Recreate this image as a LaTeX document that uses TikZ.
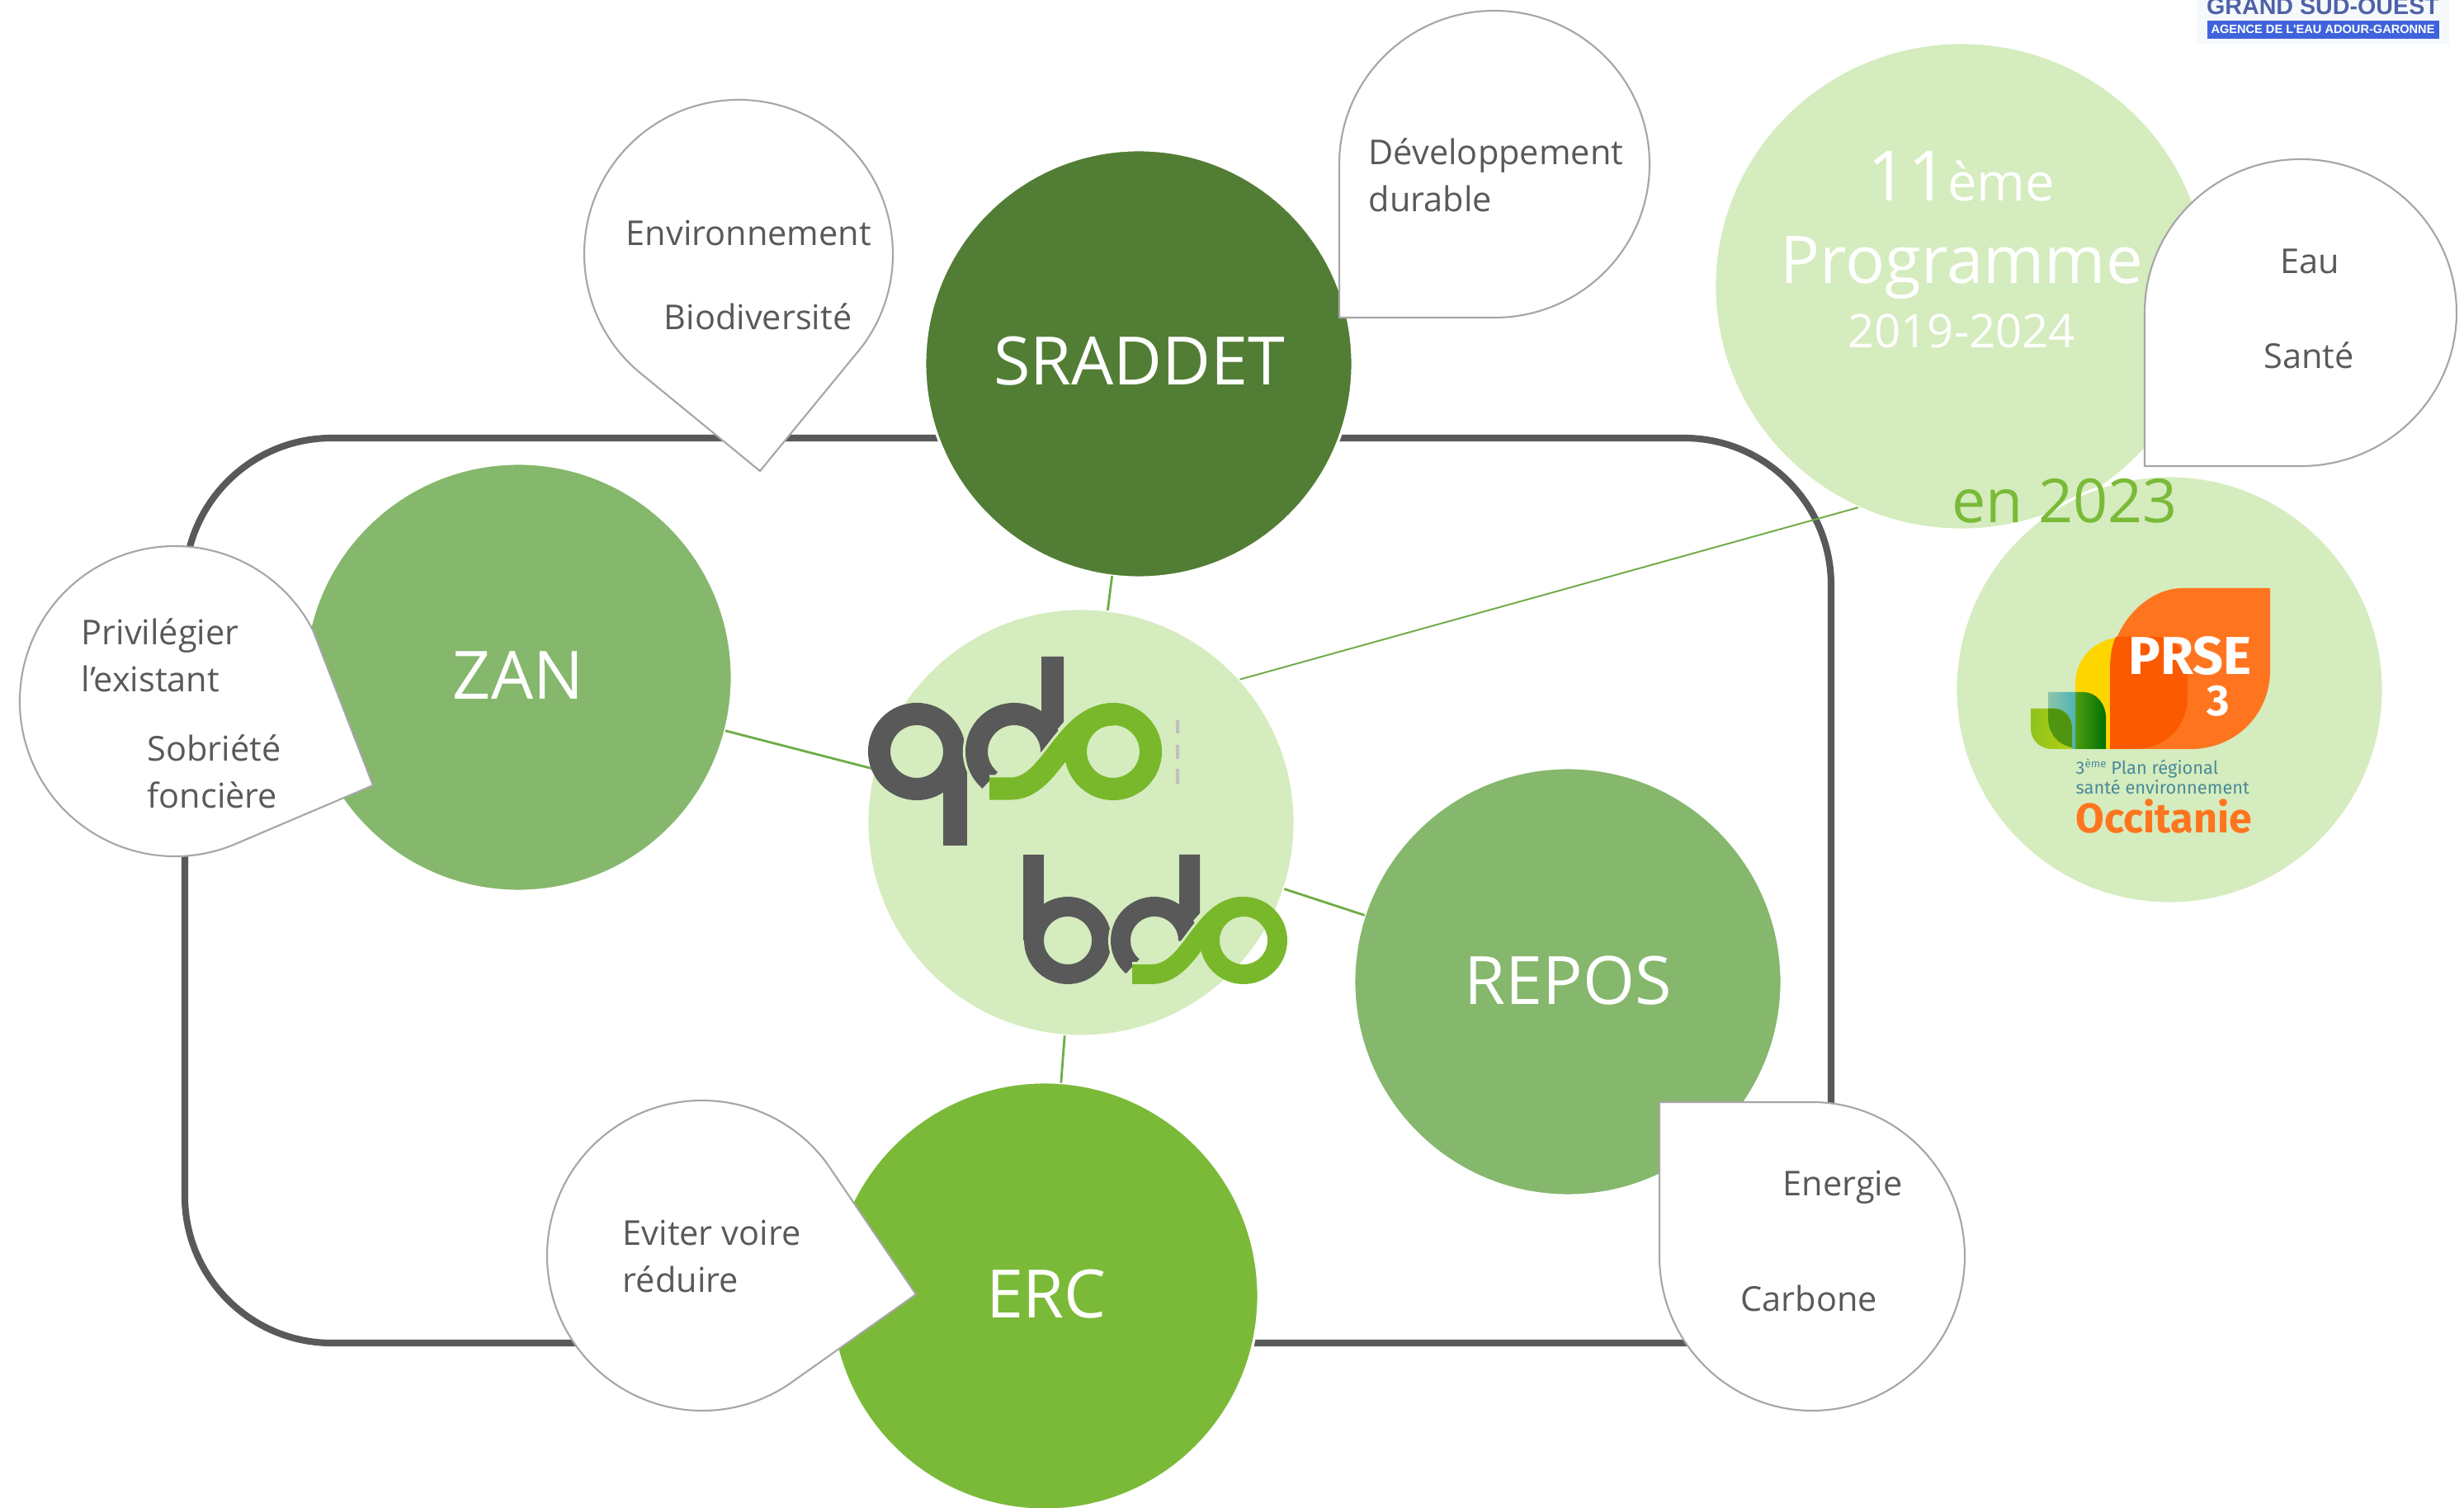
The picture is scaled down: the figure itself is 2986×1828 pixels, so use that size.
\documentclass[tikz,border=0pt]{standalone}
\usepackage{fontspec}
\usetikzlibrary{calc,shapes.geometric}
\setmainfont{Open Sans}
\newfontfamily\prsefont{Fira Sans}
\newfontfamily\logofont{Liberation Sans}
\definecolor{txt}{HTML}{595959}
\definecolor{pale}{HTML}{D5ECBE}
\definecolor{darkg}{HTML}{527D35}
\definecolor{midg}{HTML}{85B76C}
\definecolor{brightg}{HTML}{7ABA38}
\definecolor{logog}{HTML}{78B82A}
\definecolor{linkg}{HTML}{6FAC46}
\definecolor{edgeg}{HTML}{A6A6A6}
\definecolor{prseo}{HTML}{FF751F}
\definecolor{prsed}{HTML}{FB5A00}
\definecolor{prsey}{HTML}{FFD500}
\definecolor{prset}{HTML}{4A8A9A}
\definecolor{gsoblue}{HTML}{4F62A8}
\definecolor{gsobar}{HTML}{3F63DC}
\definecolor{gsobg}{HTML}{F6F9FC}
\definecolor{gA}{HTML}{4E9C10}\definecolor{gB}{HTML}{007000}
\definecolor{tA}{HTML}{8CC5A8}\definecolor{tB}{HTML}{4FB3B8}
\definecolor{lA}{HTML}{8FC31F}\definecolor{lB}{HTML}{B5CF10}
\definecolor{olive}{HTML}{4F9510}
\tikzset{
  disc/.style={circle,draw=white,line width=0.9pt,inner sep=0pt,outer sep=0pt},
  big/.style={disc,minimum size=5.18cm},
  link/.style={draw=linkg,line width=0.8pt},
  thin link/.style={draw=linkg,line width=0.55pt},
  bubble/.style={draw=edgeg,fill=white,line width=0.6pt,line join=miter},
  lab/.style={text=txt,inner sep=0pt,font=\fontsize{11.8}{14}\selectfont},
  head/.style={text=white,inner sep=0pt,font=\fontsize{23}{28}\selectfont},
}
\begin{document}
\begin{tikzpicture}[x=0.01cm,y=-0.01cm]
\fill[white] (0,0) rectangle (2986,1828);
\useasboundingbox (0,0) rectangle (2986,1828);
% frame
\draw[txt,line width=2.3pt,rounded corners=1.78cm] (224,531) rectangle (2219,1628);
% circles
\node[ellipse,draw=white,line width=0.9pt,inner sep=0pt,outer sep=0pt,fill=pale,minimum width=5.98cm,minimum height=5.9cm] (prog) at (2377,347) {};
\node[big,fill=pale] (prse) at (2629,836) {};
\node[big,fill=darkg] (srad) at (1380,441) {};
\node[big,fill=midg] (zan) at (628,821) {};
\node[big,fill=pale] (cen) at (1310,997) {};
\node[big,fill=midg] (repos) at (1900,1190) {};
\node[big,fill=brightg] (erc) at (1266,1571) {};
% connectors
\draw[link] (cen) -- (srad);
\draw[link] (cen) -- (zan);
\draw[link] (cen) -- (repos);
\draw[link] (cen) -- (erc);
\draw[thin link] (cen.42.6) -- (prog.245.7);
% qdo logo
\begin{scope}[line width=7.7pt]
\draw[txt] (1111,911) circle[radius=45.5];
\fill[txt] (1143,911) rectangle (1172,1025);
\draw[pale,line width=9.5pt] (1229,911)+(130:45.5) arc[start angle=130,end angle=290,radius=45.5];
\draw[txt] (1229,911)+(130:45.5) arc[start angle=130,end angle=360,radius=45.5];
\fill[txt] (1262,796) -- (1289,796) -- (1289,875) -- (1262,907) -- cycle;
\draw[pale,line width=9.5pt] (1199,956) -- (1225,956) .. controls (1275,956) and (1290,866) .. (1349,866);
\draw[logog] (1199,956) -- (1225,956) .. controls (1275,956) and (1290,866) .. (1349,866);
\draw[logog] (1349,911) circle[radius=45.5];
\end{scope}
\fill[gray!50] (1425,873) rectangle (1429,889) (1425,903) rectangle (1429,920) (1425,932) rectangle (1429,950);
% bdo logo
\begin{scope}[line width=6.8pt]
\draw[txt] (1294,1140) circle[radius=41];
\fill[txt] (1240,1036) rectangle (1265,1140);
\draw[pale,line width=8.5pt] (1399,1140)+(130:41) arc[start angle=130,end angle=290,radius=41];
\draw[txt] (1399,1140)+(130:41) arc[start angle=130,end angle=360,radius=41];
\fill[txt] (1429,1036) -- (1454,1036) -- (1454,1107) -- (1429,1135) -- cycle;
\draw[pale,line width=8.5pt] (1372,1181) -- (1395,1181) .. controls (1445,1181) and (1455,1099) .. (1507,1099);
\draw[logog] (1372,1181) -- (1395,1181) .. controls (1445,1181) and (1455,1099) .. (1507,1099);
\draw[logog] (1507,1140) circle[radius=41];
\end{scope}
% PRSE logo
\fill[prseo] (2751,713) -- (2645,713) .. controls (2600,713) and (2557,760) .. (2557,813) -- (2557,908) -- (2655,908) .. controls (2710,908) and (2751,865) .. (2751,813) -- cycle;
\fill[prsey] (2515,839) -- (2515,830) .. controls (2515,800) and (2535,778) .. (2564,773) .. controls (2558,785) and (2557,800) .. (2557,813) -- (2557,908) -- (2515,908) -- cycle;
\fill[prsed] (2564,772) -- (2612,772) .. controls (2635,772) and (2651,790) .. (2651,813) -- (2651,845) .. controls (2651,880) and (2625,908) .. (2586,908) -- (2557,908) -- (2557,813) .. controls (2557,800) and (2558,785) .. (2564,772) -- cycle;
\shade[left color=gA,right color=gB] (2515,839) -- (2525,839) .. controls (2540,839) and (2552,853) .. (2552,870) -- (2552,908) -- (2515,908) -- cycle;
\shade[left color=tA,right color=tB] (2482,839) -- (2515,839) -- (2515,908) -- (2511,908) .. controls (2495,905) and (2482,890) .. (2482,870) -- cycle;
\shade[left color=lA,right color=lB] (2461,859) -- (2490,859) .. controls (2502,859) and (2511,870) .. (2511,882) -- (2511,908) -- (2487,908) .. controls (2472,908) and (2461,897) .. (2461,883) -- cycle;
\fill[olive] (2482,859) -- (2490,859) .. controls (2502,859) and (2511,870) .. (2511,882) -- (2511,906) .. controls (2495,903) and (2482,890) .. (2482,870) -- cycle;
\node[inner sep=0pt,text=white,anchor=base,font=\prsefont\fontsize{18.4}{22}\selectfont\bfseries] (prsea) at (2654,818) {PRSE};
\node[inner sep=0pt,text=white,anchor=base,font=\prsefont\fontsize{15}{18}\selectfont\bfseries] (prseb) at (2688,868) {3};
\node[inner sep=0pt,text=prset,anchor=base west,font=\prsefont\fontsize{6.2}{8}\selectfont] (prsec) at (2515,939) {3\raisebox{0.7ex}{\fontsize{3.8}{4}\selectfont ème} Plan régional};
\node[inner sep=0pt,text=prset,anchor=base west,font=\prsefont\fontsize{6.2}{8}\selectfont] (prsed) at (2515,963) {santé environnement};
\node[inner sep=0pt,text=prseo,anchor=base west,font=\prsefont\fontsize{14.3}{17}\selectfont\bfseries] (prsee) at (2515,1010) {Occitanie};
% top-right logo
\fill[gsobg] (2662,0) rectangle (2968,54);
\node[inner sep=0pt,text=gsoblue,anchor=base,font=\logofont\fontsize{8.15}{10}\selectfont\bfseries] (gso) at (2815,18) {GRAND SUD-OUEST};
\fill[gsobar] (2675,25) rectangle (2956,47);
\node[inner sep=0pt,text=white,anchor=base,font=\logofont\fontsize{4.15}{5}\selectfont\bfseries] (gsob) at (2815,41) {AGENCE DE L'EAU ADOUR-GARONNE};
% headings
\node[head,anchor=base] (tsrad) at (1381,467) {SRADDET};
\node[head,anchor=base] (tzan) at (628,848) {ZAN};
\node[head,anchor=base] (trepos) at (1900,1218) {REPOS};
\node[head,anchor=base] (terc) at (1268,1597) {ERC};
\node[head,anchor=base] (t11) at (2377,244) {{\fontsize{24}{28}\selectfont 11}{\fontsize{18}{20}\selectfont ème}};
\node[head,anchor=base] (tprog) at (2377,344) {\fontsize{22.7}{26}\selectfont Programme};
\node[head,anchor=base] (tyear) at (2377,422) {\fontsize{16}{20}\selectfont 2019-2024};
\node[head,anchor=base,text=brightg] (ten) at (2502,634) {\fontsize{20.9}{24}\selectfont en 2023};
% callouts
\coordinate (c1) at (895,308);
\draw[bubble] (921,571) -- ($(c1)+(37:187)$) arc[start angle=37,end angle=-230,radius=187] -- cycle;
\draw[bubble] (1623,385) -- (1623,199) arc[start angle=180,end angle=450,x radius=188,y radius=186] -- cycle;
\draw[bubble] (2599,565) -- (2599,379) arc[start angle=180,end angle=450,x radius=189,y radius=186] -- cycle;
\draw[bubble] (2011,1336) -- (2196,1336) arc[start angle=270,end angle=540,x radius=185,y radius=187] -- cycle;
\coordinate (c5) at (212,850);
\draw[bubble] (452,952) -- ($(c5)+(68:188)$) arc[start angle=68,end angle=333,radius=188] -- cycle;
\coordinate (c6) at (851,1522);
\draw[bubble] (1110,1569) -- ($(c6)+(54:188)$) arc[start angle=54,end angle=323,radius=188] -- cycle;
% callout texts
\node[lab,anchor=base west] (l1) at (758,298) {Environnement};
\node[lab,anchor=base west] (l2) at (804,400) {Biodiversité};
\node[lab,anchor=base west] (l3) at (1658,200) {Développement};
\node[lab,anchor=base west] (l4) at (1658,257) {durable};
\node[lab,anchor=base] (l5) at (2799,332) {Eau};
\node[lab,anchor=base] (l6) at (2798,447) {Santé};
\node[lab,anchor=base west] (l7) at (98,782) {Privilégier};
\node[lab,anchor=base west] (l8) at (98,839) {l’existant};
\node[lab,anchor=base west] (l9) at (178,923) {Sobriété};
\node[lab,anchor=base west] (l10) at (178,980) {foncière};
\node[lab,anchor=base west] (l11) at (754,1510) {Eviter voire};
\node[lab,anchor=base west] (l12) at (754,1567) {réduire};
\node[lab,anchor=base west] (l13) at (2160,1449) {Energie};
\node[lab,anchor=base west] (l14) at (2109,1590) {Carbone};
\end{tikzpicture}
\end{document}
